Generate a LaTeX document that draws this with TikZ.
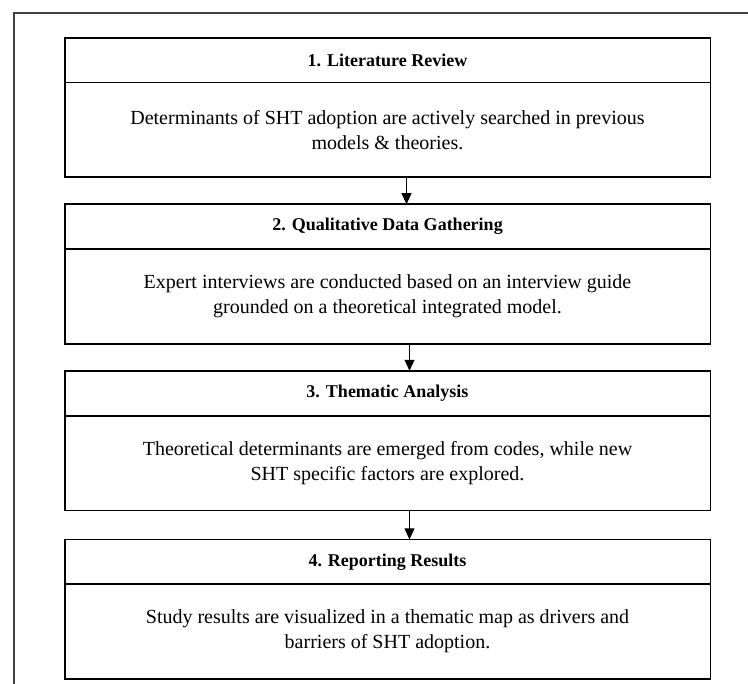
\documentclass[tikz,border=0pt]{standalone}
\usepackage{fontspec}
\setmainfont{Liberation Serif}
\usepackage{tikz}
\usetikzlibrary{arrows.meta,positioning}

\begin{document}
\begin{tikzpicture}[
  x=1pt,y=1pt,
  node distance=27pt,
  head/.style={rectangle,draw,line width=0.8pt,minimum width=645pt,minimum height=44pt,inner sep=0pt,font=\fontsize{18}{22}\selectfont\bfseries},
  body/.style={rectangle,draw,line width=0.8pt,minimum width=645pt,minimum height=94pt,inner sep=0pt,align=center,font=\fontsize{20}{25}\selectfont},
  outline/.style={line width=1.6pt},
  arrow/.style={-{Triangle[length=11pt,width=10pt]},line width=0.9pt}
]
  \useasboundingbox (0,0) rectangle (748,-684);
  \draw[line width=1.6pt,black!75] (14,-684) |- (748,-13);

  \node[head] (h1) at (387.5,-60) {1. Literature Review};
  \node[body,below=0pt of h1] (b1) {Determinants of SHT adoption are actively searched in previous\\models \& theories.};
  \node[head,below=of b1] (h2) {2. Qualitative Data Gathering};
  \node[body,below=0pt of h2] (b2) {Expert interviews are conducted based on an interview guide\\grounded on a theoretical integrated model.};
  \node[head,below=of b2] (h3) {3. Thematic Analysis};
  \node[body,below=0pt of h3] (b3) {Theoretical determinants are emerged from codes, while new\\SHT specific factors are explored.};
  \node[head,below=29pt of b3] (h4) {4. Reporting Results};
  \node[body,below=0pt of h4] (b4) {Study results are visualized in a thematic map as drivers and\\barriers of SHT adoption.};

  \draw[outline] (h1.north west) rectangle (b1.south east);
  \draw[outline] (h2.north west) rectangle (b2.south east);
  \draw[outline] (h3.north west) rectangle (b3.south east);
  \draw[outline] (h4.north west) rectangle (b4.south east);

  \draw[arrow] ([xshift=19pt]b1.south) -- ([xshift=19pt]h2.north);
  \draw[arrow] ([xshift=22pt]b2.south) -- ([xshift=22pt]h3.north);
  \draw[arrow] ([xshift=22pt]b3.south) -- ([xshift=22pt]h4.north);
\end{tikzpicture}
\end{document}
